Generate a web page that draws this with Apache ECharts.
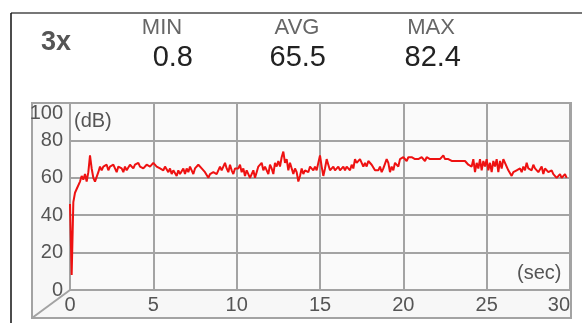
<!DOCTYPE html>
<html>
<head>
<meta charset="utf-8">
<script src="https://cdn.jsdelivr.net/npm/echarts@6/dist/echarts.min.js"></script>
<style>
html,body{margin:0;padding:0;background:#fff;}
#chart{width:582px;height:323px;}
</style>
</head>
<body>
<div id="chart"></div>
<script>
// ---- data ----
const zoomLabel = '3x';
const statNames = ['MIN', 'AVG', 'MAX'];
const statValues = ['0.8', '65.5', '82.4'];
const yUnit = '(dB)';
const xUnit = '(sec)';
const sampleSeconds = 0.1; // recording sample period
const levels = [
  46, 8, 47, 52, 54, 55, 58, 61, 59, 62,
  58, 63, 72, 65, 60, 58, 59, 63, 66, 64,
  66, 65, 67, 64, 66, 65, 67, 66, 63, 66,
  67, 65, 63, 66, 64, 65, 67, 66, 65, 67,
  66, 68, 66, 67, 65, 66, 67, 68, 66, 67,
  68, 67, 66, 67, 65, 66, 64, 66, 65, 63,
  65, 62, 64, 63, 61, 64, 62, 63, 65, 62,
  65, 63, 66, 64, 62, 65, 64, 67, 66, 65,
  66, 63, 64, 60, 62, 61, 63, 64, 62, 63,
  66, 64, 63, 68, 65, 63, 67, 64, 62, 65,
  64, 65, 67, 63, 65, 61, 64, 63, 60, 62,
  64, 60, 63, 66, 65, 68, 64, 66, 67, 62,
  67, 65, 62, 68, 66, 69, 66, 71, 74, 68,
  70, 64, 68, 67, 62, 65, 63, 58, 61, 65,
  62, 64, 65, 63, 66, 65, 64, 66, 64, 63,
  72, 66, 61, 65, 70, 67, 64, 65, 66, 64,
  65, 66, 64, 65, 66, 64, 66, 65, 64, 67,
  65, 70, 68, 67, 70, 69, 66, 68, 66, 69,
  68, 67, 66, 64, 65, 64, 66, 63, 65, 64,
  70, 68, 63, 66, 64, 68, 69, 66, 70, 69,
  71, 70, 69, 71, 70, 71, 70, 70, 71, 70,
  70, 71, 70, 69, 71, 70, 70, 71, 70, 69,
  70, 71, 70, 71, 72, 70, 71, 70, 70, 69,
  70, 69, 70, 69, 68, 69, 68, 69, 68, 67,
  68, 66, 70, 63, 68, 65, 70, 64, 69, 66,
  70, 64, 68, 63, 69, 66, 70, 63, 69, 65,
  70, 69, 66, 64, 65, 61, 63, 62, 64, 63,
  65, 63, 66, 64, 68, 65, 66, 64, 67, 65,
  66, 63, 64, 66, 62, 65, 64, 63, 62, 64,
  62, 63, 60, 61, 62, 60, 61, 62, 60
];
const xTicks = [0, 5, 10, 15, 20, 25, 30];
const yTicks = [0, 20, 40, 60, 80, 100];

// ---- chart ----
const FONT = 'Liberation Sans, Arial, sans-serif';
const gridColor = '#a3a3a3';
const chart = echarts.init(document.getElementById('chart'), null, {renderer: 'canvas'});
const seriesData = levels.map((v, i) => [+(i * sampleSeconds).toFixed(1), v]);

const G = {left: 70, top: 103, right: 570, bottom: 290};
const statCenters = [162, 297, 431];
const statRight = [193, 326, 461];

const graphics = [
  // page frame
  {type: 'line', shape: {x1: 11, y1: 13, x2: 582, y2: 13}, style: {stroke: '#777', lineWidth: 2}},
  {type: 'line', shape: {x1: 11, y1: 13, x2: 11, y2: 323}, style: {stroke: '#111', lineWidth: 1.5}},
  // pseudo-3D box
  {type: 'rect', z: -1, shape: {x: 32, y: G.top, width: 571 - 32, height: 318 - G.top}, style: {fill: '#f7f7f7', stroke: gridColor, lineWidth: 2}},
  {type: 'line', z: 5, shape: {x1: 32, y1: 318, x2: G.left, y2: G.bottom}, style: {stroke: gridColor, lineWidth: 2}},
  {type: 'text', left: 41, top: 29, style: {text: zoomLabel, font: 'bold 27px ' + FONT, fill: '#555'}},
  {type: 'text', z: 5, left: 74, top: 111, style: {text: yUnit, font: '20px ' + FONT, fill: '#555'}},
  {type: 'text', z: 5, left: 517, top: 263, style: {text: xUnit, font: '20px ' + FONT, fill: '#555'}}
];
statNames.forEach((n, i) => {
  graphics.push({type: 'text', x: statCenters[i], y: 28, style: {text: n, font: '22px ' + FONT, fill: '#666', align: 'center', verticalAlign: 'middle'}});
  graphics.push({type: 'text', x: statRight[i], y: 58, style: {text: statValues[i], font: '29px ' + FONT, fill: '#222', align: 'right', verticalAlign: 'middle'}});
});

chart.setOption({
  animation: false,
  backgroundColor: '#fff',
  grid: {left: G.left, top: G.top, width: G.right - G.left, height: G.bottom - G.top, show: true, backgroundColor: '#fafafa', borderWidth: 0},
  xAxis: {
    type: 'value', min: 0, max: 30, interval: 5,
    axisLine: {show: true, lineStyle: {color: gridColor, width: 2}},
    axisTick: {show: false},
    splitLine: {show: true, lineStyle: {color: gridColor, width: 2}},
    axisLabel: {
      color: '#555', fontSize: 20, fontFamily: FONT, margin: 5,
      alignMaxLabel: 'right',
      formatter: v => xTicks.includes(v) ? String(v) : ''
    }
  },
  yAxis: {
    type: 'value', min: 0, max: 100, interval: 20,
    axisLine: {show: true, lineStyle: {color: gridColor, width: 2}},
    axisTick: {show: false},
    splitLine: {show: true, lineStyle: {color: gridColor, width: 2}},
    axisLabel: {
      color: '#555', fontSize: 20, fontFamily: FONT, margin: 7,
      verticalAlignMaxLabel: 'top',
      formatter: v => yTicks.includes(v) ? String(v) : ''
    }
  },
  series: [{
    type: 'line', data: seriesData, showSymbol: false, symbol: 'none',
    lineStyle: {color: '#ee1111', width: 2}, z: 3
  }],
  graphic: graphics
});
</script>
</body>
</html>
